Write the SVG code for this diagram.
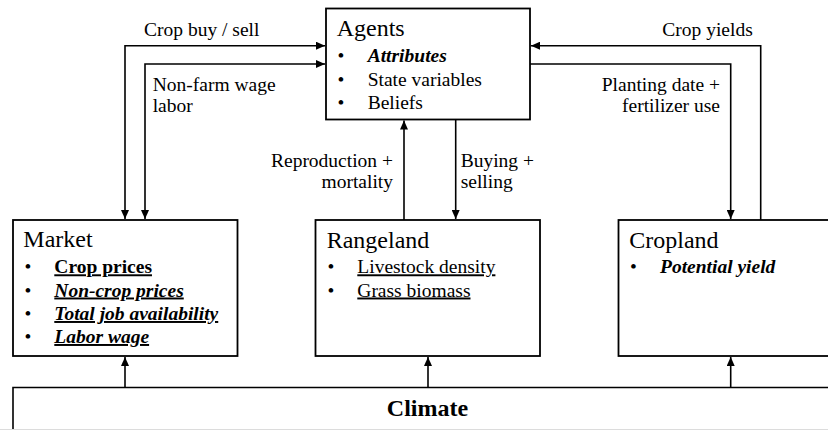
<svg xmlns="http://www.w3.org/2000/svg" width="828" height="431" viewBox="0 0 828 431" font-family="'Liberation Serif', 'DejaVu Serif', serif">
<style>
  .box{fill:#fff;stroke:#000;stroke-width:1.8}
  .ln{fill:none;stroke:#000;stroke-width:1.6}
  .title{font-size:24px}
  .item{font-size:19.5px}
  .lbl{font-size:19.5px}
  .b{font-weight:bold}
  .bi{font-weight:bold;font-style:italic}
  .u{text-decoration:underline}
  .end{text-anchor:end}
</style>
<defs>
  <marker id="ah" markerUnits="userSpaceOnUse" markerWidth="10" markerHeight="8" refX="9" refY="4" orient="auto-start-reverse">
    <path d="M0,0 L9,4 L0,8 Z" fill="#000"/>
  </marker>
</defs>
<rect width="828" height="431" fill="#fff"/>

<g id="connectors">
  <path class="ln" d="M125,219 V45.7 H325" marker-start="url(#ah)" marker-end="url(#ah)"/>
  <path class="ln" d="M145,219 V64 H325" marker-start="url(#ah)" marker-end="url(#ah)"/>
  <path class="ln" d="M404,220 V120.5" marker-end="url(#ah)"/>
  <path class="ln" d="M455.7,119.5 V219" marker-end="url(#ah)"/>
  <path class="ln" d="M760.7,220 V45.7 H531" marker-end="url(#ah)"/>
  <path class="ln" d="M530,64 H730.7 V219" marker-end="url(#ah)"/>
  <path class="ln" d="M125,387.5 V357" marker-end="url(#ah)"/>
  <path class="ln" d="M428,387.5 V357" marker-end="url(#ah)"/>
  <path class="ln" d="M730.7,387.5 V357" marker-end="url(#ah)"/>
  <text class="lbl" x="144" y="36">Crop buy / sell</text>
  <text class="lbl" x="152.7" y="90.5">Non-farm wage</text>
  <text class="lbl" x="152.7" y="111.5">labor</text>
  <text class="lbl end" x="393" y="166.5">Reproduction +</text>
  <text class="lbl end" x="393" y="188">mortality</text>
  <text class="lbl" x="460.7" y="166.5">Buying +</text>
  <text class="lbl" x="460.7" y="188">selling</text>
  <text class="lbl" x="662.3" y="36">Crop yields</text>
  <text class="lbl end" x="720" y="90.5">Planting date +</text>
  <text class="lbl end" x="720" y="111.5">fertilizer use</text>
</g>

<g id="agents">
  <rect class="box" x="326" y="8.5" width="204" height="111"/>
  <text class="title" x="336.7" y="36">Agents</text>
  <text class="item" x="341" y="62" text-anchor="middle">•</text>
  <text class="item bi" x="367.7" y="62">Attributes</text>
  <text class="item" x="341" y="85.5" text-anchor="middle">•</text>
  <text class="item" x="367.7" y="85.5">State variables</text>
  <text class="item" x="341" y="109" text-anchor="middle">•</text>
  <text class="item" x="367.7" y="109">Beliefs</text>
</g>

<g id="market">
  <rect class="box" x="13" y="220" width="224.5" height="136"/>
  <text class="title" x="23.3" y="246.7">Market</text>
  <text class="item" x="28" y="273.3" text-anchor="middle">•</text>
  <text class="item b u" x="54.3" y="273.3">Crop prices</text>
  <text class="item" x="28" y="296.5" text-anchor="middle">•</text>
  <text class="item bi u" x="54.3" y="296.5">Non-crop prices</text>
  <text class="item" x="28" y="320" text-anchor="middle">•</text>
  <text class="item bi u" x="54.3" y="320">Total job availability</text>
  <text class="item" x="28" y="343" text-anchor="middle">•</text>
  <text class="item bi u" x="54.3" y="343">Labor wage</text>
</g>

<g id="rangeland">
  <rect class="box" x="315.5" y="220" width="224.5" height="136"/>
  <text class="title" x="326.7" y="248">Rangeland</text>
  <text class="item" x="331" y="273.3" text-anchor="middle">•</text>
  <text class="item u" x="357.3" y="273.3">Livestock density</text>
  <text class="item" x="331" y="296.5" text-anchor="middle">•</text>
  <text class="item u" x="357.3" y="296.5">Grass biomass</text>
</g>

<g id="cropland">
  <rect class="box" x="618.5" y="220" width="240" height="136"/>
  <text class="title" x="629.3" y="248">Cropland</text>
  <text class="item" x="633.5" y="272.7" text-anchor="middle">•</text>
  <text class="item bi" x="660" y="272.7">Potential yield</text>
</g>

<g id="climate">
  <path fill="#fff" stroke="none" d="M13,387.5 H860 V429 H13 Z"/>
  <path class="ln" stroke-width="1.8" d="M13,429 V387.5 H860"/>
  <line x1="0" y1="429.5" x2="828" y2="429.5" stroke="#dcdcdc" stroke-width="1.2"/>
  <text class="title b" x="427.5" y="416" text-anchor="middle">Climate</text>
</g>
</svg>
